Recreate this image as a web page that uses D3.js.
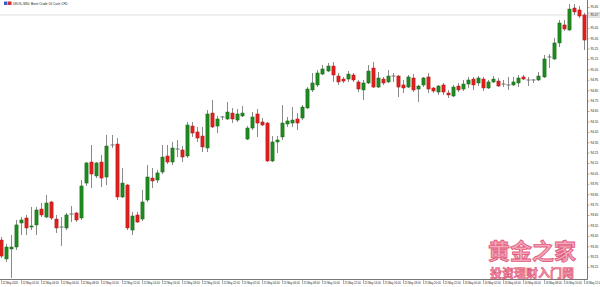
<!DOCTYPE html>
<html><head><meta charset="utf-8">
<script src="https://cdn.jsdelivr.net/npm/d3@7"></script>
<style>html,body{margin:0;padding:0;background:#fff;}svg{display:block;}</style>
</head><body>
<div id="chart"></div>
<script>
const title = "UKOIL,M30: Brent Crude Oil Cash CFD";
const open = [
93.409,93.227,93.323,93.342,93.573,93.621,93.534,93.554,93.707,93.630,
93.775,93.611,93.534,93.525,93.659,93.669,93.621,93.957,94.159,94.025,
94.159,94.015,94.323,94.332,93.823,93.938,93.505,93.650,93.611,93.794,
94.005,93.986,94.063,94.217,94.159,94.284,94.275,94.217,94.505,94.448,
94.409,94.294,94.630,94.505,94.592,94.573,94.630,94.563,94.602,94.380,
94.486,94.621,94.544,94.534,94.169,94.352,94.400,94.525,94.534,94.573,
94.582,94.679,94.852,94.900,95.005,95.034,95.082,94.986,94.957,94.957,
94.996,94.929,94.852,94.919,95.063,94.880,94.957,94.929,94.986,94.986,
94.900,94.880,94.967,94.861,94.900,94.977,94.871,94.832,94.900,94.823,
94.794,94.890,94.861,94.909,94.957,94.919,94.957,94.871,94.929,94.938,
94.909,94.900,94.900,94.919,94.977,94.948,94.948,94.948,94.977,95.169,
95.150,95.304,95.477,95.429,95.640,95.621,95.573];
const high = [
93.438,93.371,93.457,93.602,93.630,93.650,93.727,93.727,93.765,93.842,
93.784,93.650,93.630,93.669,93.736,93.679,93.986,94.159,94.323,94.159,
94.227,94.419,94.419,94.390,94.102,93.948,93.679,93.679,93.890,94.130,
94.102,94.082,94.323,94.323,94.352,94.371,94.313,94.544,94.544,94.496,
94.496,94.659,94.755,94.602,94.602,94.736,94.679,94.669,94.698,94.505,
94.640,94.669,94.582,94.544,94.409,94.409,94.707,94.592,94.688,94.630,
94.707,94.880,95.015,95.044,95.092,95.111,95.121,95.015,94.977,95.034,
95.015,94.948,94.948,95.092,95.121,95.025,94.977,95.044,95.015,94.996,
94.948,94.996,95.005,94.900,94.977,95.015,94.880,94.900,94.919,94.852,
94.900,94.919,94.948,94.977,94.977,94.986,94.977,94.948,94.986,94.967,
94.948,94.977,94.977,94.996,94.996,94.977,94.957,95.025,95.188,95.198,
95.352,95.525,95.525,95.679,95.679,95.659,95.592];
const low = [
93.236,93.198,93.044,93.313,93.457,93.457,93.505,93.457,93.630,93.621,
93.602,93.477,93.352,93.505,93.582,93.582,93.602,93.929,93.909,94.005,
93.919,93.938,94.294,93.794,93.813,93.505,93.457,93.573,93.592,93.775,
93.909,93.957,94.044,94.140,94.130,94.207,94.159,94.198,94.400,94.352,
94.255,94.255,94.486,94.438,94.563,94.563,94.534,94.544,94.592,94.371,
94.467,94.400,94.505,94.159,94.159,94.246,94.371,94.496,94.496,94.467,
94.563,94.669,94.832,94.880,94.996,95.025,94.929,94.900,94.919,94.929,
94.929,94.832,94.755,94.909,94.871,94.871,94.900,94.919,94.929,94.784,
94.823,94.871,94.832,94.736,94.880,94.823,94.823,94.804,94.804,94.775,
94.784,94.832,94.842,94.871,94.852,94.890,94.842,94.861,94.919,94.880,
94.880,94.852,94.890,94.880,94.948,94.890,94.919,94.938,94.967,95.063,
95.140,95.265,95.419,95.419,95.573,95.544,95.236];
const close = [
93.255,93.342,93.342,93.554,93.602,93.525,93.544,93.698,93.650,93.765,
93.621,93.525,93.534,93.650,93.659,93.602,93.929,94.150,94.044,94.150,
94.005,94.313,94.323,93.823,93.957,93.525,93.640,93.582,93.775,94.015,
93.977,94.054,94.207,94.159,94.294,94.284,94.207,94.515,94.438,94.390,
94.304,94.621,94.496,94.573,94.592,94.640,94.573,94.621,94.630,94.486,
94.592,94.534,94.515,94.169,94.352,94.371,94.534,94.554,94.563,94.534,
94.688,94.861,94.919,95.015,95.054,95.082,94.996,94.929,94.938,95.005,
94.948,94.861,94.919,95.034,94.880,94.967,94.919,94.986,94.986,94.880,
94.871,94.977,94.852,94.890,94.967,94.861,94.842,94.890,94.832,94.804,
94.880,94.852,94.909,94.948,94.900,94.967,94.871,94.929,94.957,94.890,
94.909,94.900,94.929,94.967,94.957,94.948,94.948,94.986,95.150,95.169,
95.304,95.496,95.438,95.630,95.602,95.563,95.332];
const priceTicks = [93.15,93.25,93.35,93.45,93.55,93.65,93.75,93.85,93.95,94.05,94.15,94.25,94.35,94.45,94.55,94.65,94.75,94.85,94.95,95.05,95.15,95.25,95.35,95.45,95.65];
const markerLine = 95.573;
const markerLabel = "95.57";
const timeTickIdx = [0,4,8,12,16,20,24,28,32,36,40,44,48,52,56,60,64,68,72,76,80,84,88,92,96,100,104,108,112,116];
const timeTickLabels = ["22 May 2020","22 May 02:00","22 May 04:00","22 May 06:00","22 May 08:00","22 May 10:00","22 May 12:00","22 May 14:00","22 May 16:00","22 May 18:00","22 May 20:00","22 May 22:00","25 May 02:00","25 May 04:00","25 May 06:00","25 May 08:00","25 May 10:00","25 May 12:00","25 May 14:00","25 May 16:00","25 May 18:00","25 May 20:00","25 May 22:00","26 May 00:00","26 May 02:00","26 May 04:00","26 May 06:00","26 May 08:00","26 May 10:00","26 May 12:00"];
const wm1 = "黄金之家", wm2 = "投资理财入门网";

const W = 600, H = 287, axisX = 587, axisY = 279;
const N = open.length;
const candles = d3.range(N).map(i => ({i, o: open[i], h: high[i], l: low[i], c: close[i]}));

const svg = d3.select("#chart").append("svg").attr("width", W).attr("height", H);
svg.append("rect").attr("width", W).attr("height", H).attr("fill", "#fff");

const x = d3.scaleLinear().domain([0, N - 1]).range([1, 583.7]);
const y = d3.scaleLinear().domain([93.10, 95.70]).range([272.17, 1.77]);

svg.append("line").attr("x1", 0).attr("x2", axisX).attr("y1", y(markerLine)).attr("y2", y(markerLine))
  .attr("stroke", "#c8c8c8").attr("stroke-width", 0.6);

const plot = svg.append("g");
plot.selectAll("line.wick").data(candles).join("line").attr("class", "wick")
  .attr("x1", d => Math.round(x(d.i)) + 0.5).attr("x2", d => Math.round(x(d.i)) + 0.5)
  .attr("y1", d => y(d.h)).attr("y2", d => y(d.l))
  .attr("stroke", "#8a8a8a").attr("stroke-width", 1);

const bw = 3.2;
plot.selectAll("rect.body").data(candles.filter(d => Math.abs(d.o - d.c) > 0.004)).join("rect").attr("class", "body")
  .attr("x", d => Math.round(x(d.i)) + 0.5 - bw / 2)
  .attr("width", bw)
  .attr("y", d => y(Math.max(d.o, d.c)))
  .attr("height", d => Math.max(1, Math.abs(y(d.o) - y(d.c))))
  .attr("fill", d => d.c > d.o ? "#1f8a1f" : "#e0201e")
  .attr("stroke", d => d.c > d.o ? "#176a17" : "#b01818")
  .attr("stroke-width", 0.5);

plot.selectAll("line.doji").data(candles.filter(d => Math.abs(d.o - d.c) <= 0.004)).join("line").attr("class", "doji")
  .attr("x1", d => Math.round(x(d.i)) + 0.5 - 2).attr("x2", d => Math.round(x(d.i)) + 0.5 + 2)
  .attr("y1", d => y(d.o)).attr("y2", d => y(d.o))
  .attr("stroke", "#707070").attr("stroke-width", 1);

svg.append("line").attr("x1", axisX + 0.5).attr("x2", axisX + 0.5).attr("y1", 0).attr("y2", axisY + 0.5)
  .attr("stroke", "#555").attr("stroke-width", 0.8);
svg.append("line").attr("x1", 0).attr("x2", axisX + 0.5).attr("y1", axisY + 0.5).attr("y2", axisY + 0.5)
  .attr("stroke", "#555").attr("stroke-width", 0.8);

const yAxis = d3.axisRight(y).tickValues(priceTicks).tickSize(2).tickPadding(1).tickFormat(d3.format(".2f"));
const gy = svg.append("g").attr("transform", `translate(${axisX + 0.5},0)`).call(yAxis);
gy.select(".domain").remove();
gy.selectAll("line").attr("stroke", "#666").attr("stroke-width", 0.5);
gy.selectAll("text").attr("font-family", "Liberation Sans, Arial, sans-serif").attr("font-size", 3.1).attr("fill", "#222");

const ml = svg.append("g").attr("transform", `translate(${axisX + 1},${y(markerLine)})`);
ml.append("rect").attr("x", 0).attr("y", -2.2).attr("width", 12).attr("height", 4.4).attr("fill", "#e8e8e8").attr("stroke", "#999").attr("stroke-width", 0.3);
ml.append("text").attr("x", 2.5).attr("y", 1.1).text(markerLabel)
  .attr("font-family", "Liberation Sans, Arial, sans-serif").attr("font-size", 3.1).attr("fill", "#111");

const gx = svg.append("g");
timeTickIdx.forEach((idx, k) => {
  const px = Math.round(x(idx)) + 0.5;
  gx.append("line").attr("x1", px).attr("x2", px).attr("y1", axisY + 0.5).attr("y2", axisY + 5)
    .attr("stroke", "#666").attr("stroke-width", 0.5);
  gx.append("text").attr("x", px + 1).attr("y", axisY + 4.6).text(timeTickLabels[k])
    .attr("font-family", "Liberation Sans, Arial, sans-serif").attr("font-size", 2.7).attr("fill", "#222");
});

svg.append("rect").attr("x", 4).attr("y", 1.5).attr("width", 3.5).attr("height", 3.5).attr("fill", "#3a5fcd");
svg.append("rect").attr("x", 8).attr("y", 1.5).attr("width", 3.5).attr("height", 3.5).attr("fill", "#d03030");
svg.append("text").attr("x", 13).attr("y", 4.8).text(title)
  .attr("font-family", "Liberation Sans, Arial, sans-serif").attr("font-size", 3.1).attr("fill", "#222");

svg.append("text").attr("x", 532).attr("y", 259).attr("text-anchor", "middle").text(wm1)
  .attr("font-family", "Noto Sans CJK SC").attr("font-weight", "bold").attr("font-size", 22)
  .attr("fill", "#f4a3b6").attr("stroke", "#e0557a").attr("stroke-width", 0.9).attr("opacity", 0.95);
svg.append("text").attr("x", 532).attr("y", 278).attr("text-anchor", "middle").text(wm2)
  .attr("font-family", "Noto Sans CJK SC").attr("font-weight", "bold").attr("font-size", 12)
  .attr("fill", "#f08aa3").attr("stroke", "#d9456a").attr("stroke-width", 0.5).attr("opacity", 0.95);
</script>
</body></html>
